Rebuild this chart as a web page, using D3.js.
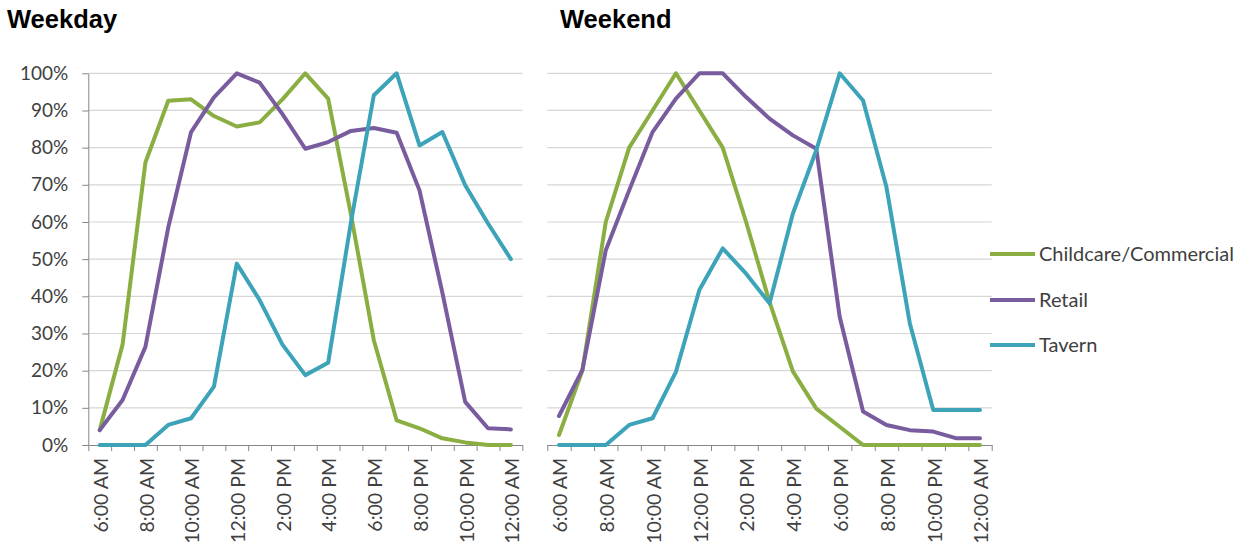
<!DOCTYPE html>
<html>
<head>
<meta charset="utf-8">
<script src="https://cdn.jsdelivr.net/npm/d3@7/dist/d3.min.js"></script>
<style>
  html, body { margin: 0; padding: 0; background: #ffffff; }
  svg { display: block; }
</style>
</head>
<body>
<svg id="chart" width="1250" height="548"></svg>
<script>
// ---------- DATA ----------
const hours = ["6:00 AM","7:00 AM","8:00 AM","9:00 AM","10:00 AM","11:00 AM","12:00 PM","1:00 PM","2:00 PM","3:00 PM","4:00 PM","5:00 PM","6:00 PM","7:00 PM","8:00 PM","9:00 PM","10:00 PM","11:00 PM","12:00 AM"];
const seriesNames = ["Childcare/Commercial","Retail","Tavern"];
const seriesColors = ["#8bae43","#785c9e","#3ca3b9"];
const yTicks = [0,0.1,0.2,0.3,0.4,0.5,0.6,0.7,0.8,0.9,1.0];

const weekdayChildcare = [0.04,0.27,0.76,0.926,0.93,0.885,0.857,0.868,0.93,1.00,0.932,0.62,0.282,0.066,0.045,0.018,0.007,0,0];
const weekdayRetail    = [0.04,0.121,0.264,0.585,0.842,0.935,1.00,0.975,0.89,0.797,0.815,0.845,0.853,0.84,0.685,0.41,0.116,0.045,0.042];
const weekdayTavern    = [0,0,0,0.054,0.072,0.157,0.488,0.39,0.27,0.188,0.221,0.60,0.941,1.00,0.806,0.842,0.699,0.596,0.50];

const weekendChildcare = [0.027,0.20,0.60,0.80,0.90,1.00,0.90,0.80,0.60,0.385,0.198,0.098,0.049,0,0,0,0,0,0];
const weekendRetail    = [0.078,0.202,0.524,0.685,0.842,0.932,1.00,1.00,0.936,0.878,0.833,0.797,0.345,0.09,0.054,0.04,0.036,0.018,0.018];
const weekendTavern    = [0,0,0,0.054,0.072,0.197,0.417,0.529,0.461,0.381,0.623,0.793,1.00,0.927,0.694,0.327,0.094,0.094,0.094];

const panels = [
  { title: "Weekday", series: [weekdayChildcare, weekdayRetail, weekdayTavern], x0: 88.3, x1: 522.3, titleX: 7, showY: true },
  { title: "Weekend", series: [weekendChildcare, weekendRetail, weekendTavern], x0: 547.3, x1: 991.7, titleX: 560, showY: false }
];

// ---------- DRAW ----------
const svg = d3.select("#chart");
const FONT = "Lato, 'Open Sans', sans-serif";
const y = d3.scaleLinear().domain([0, 1]).range([445, 73.3]);

panels.forEach(p => {
  const g = svg.append("g");
  const x = d3.scaleBand().domain(hours).range([p.x0, p.x1]).paddingInner(0).paddingOuter(0);
  const xb = d3.scaleLinear().domain([0, hours.length]).range([p.x0, p.x1]);

  // title
  g.append("text")
    .attr("x", p.titleX).attr("y", 28)
    .attr("font-family", "'Liberation Sans', Arial, sans-serif")
    .attr("font-weight", "bold").attr("font-size", 25.5)
    .attr("fill", "#000").text(p.title);

  // gridlines
  g.append("g").selectAll("line").data(yTicks.filter(t => t > 0)).join("line")
    .attr("x1", p.x0).attr("x2", p.x1)
    .attr("y1", d => y(d)).attr("y2", d => y(d))
    .attr("stroke", "#d6d6d6").attr("stroke-width", 1.2);

  // y axis
  if (p.showY) {
    const ya = g.append("g").attr("transform", `translate(${p.x0},0)`)
      .call(d3.axisLeft(y).tickValues(yTicks).tickFormat(d3.format(".0%")).tickSize(6).tickSizeOuter(0));
    ya.select(".domain").attr("stroke", "#868686");
    ya.selectAll(".tick line").attr("stroke", "#868686");
    ya.selectAll(".tick text").attr("font-family", FONT).attr("font-size", 19).attr("fill", "#404040").attr("x", -20);
  }

  // x axis tick marks at category boundaries
  const xa = g.append("g").attr("transform", `translate(0,${y(0)})`)
    .call(d3.axisBottom(xb).tickValues(d3.range(hours.length + 1)).tickFormat("").tickSize(6).tickSizeOuter(0));
  xa.select(".domain").attr("stroke", "#868686");
  xa.selectAll(".tick line").attr("stroke", "#868686");

  // category labels (every other hour)
  g.append("g").selectAll("text").data(hours.filter((h, i) => i % 2 === 0)).join("text")
    .attr("transform", d => `translate(${x(d) + x.bandwidth() / 2 + 1.5},458) rotate(-90)`)
    .attr("dy", "0.35em")
    .attr("text-anchor", "end")
    .attr("font-family", FONT).attr("font-size", 19.5).attr("fill", "#404040")
    .text(d => d);

  // series lines
  const line = d3.line().x((d, i) => x(hours[i]) + x.bandwidth() / 2).y(d => y(d));
  p.series.forEach((s, k) => {
    g.append("path").datum(s)
      .attr("d", line)
      .attr("fill", "none")
      .attr("stroke", seriesColors[k])
      .attr("stroke-width", 4)
      .attr("stroke-linejoin", "round")
      .attr("stroke-linecap", "round");
  });
});

// legend
const legendY = [254, 300, 345];
const lg = svg.append("g");
seriesNames.forEach((name, k) => {
  lg.append("line")
    .attr("x1", 990).attr("x2", 1035)
    .attr("y1", legendY[k]).attr("y2", legendY[k])
    .attr("stroke", seriesColors[k]).attr("stroke-width", 4);
  lg.append("text")
    .attr("x", 1039).attr("y", legendY[k]).attr("dy", "0.35em")
    .attr("font-family", FONT).attr("font-size", 20).attr("fill", "#404040")
    .text(name);
});
</script>
</body>
</html>
